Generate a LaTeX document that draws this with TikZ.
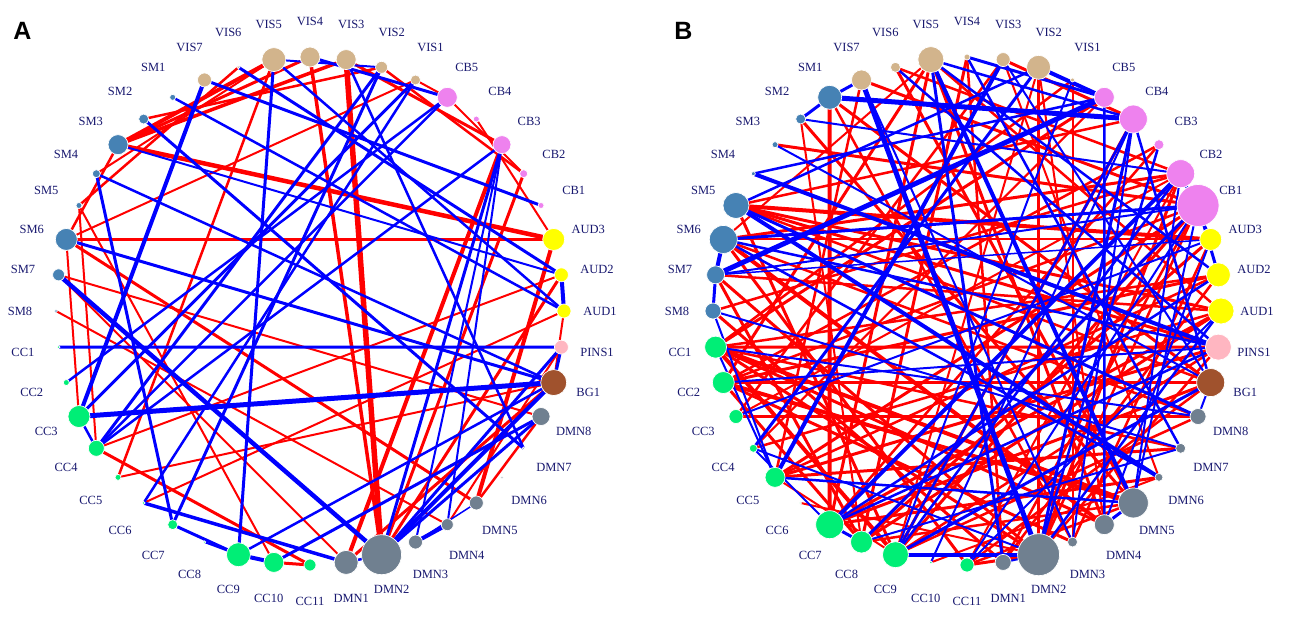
\documentclass[tikz,border=0pt]{standalone}
\usepackage{fontspec}
\setmainfont{Liberation Serif}
\newfontfamily\panelfont{Liberation Sans}
\usetikzlibrary{backgrounds}
\definecolor{cvis}{RGB}{210,180,140}
\definecolor{ccb}{RGB}{238,130,238}
\definecolor{caud}{RGB}{255,255,0}
\definecolor{cpins}{RGB}{255,182,193}
\definecolor{cbg}{RGB}{160,82,45}
\definecolor{cdmn}{RGB}{112,128,144}
\definecolor{ccc}{RGB}{0,238,118}
\definecolor{csm}{RGB}{70,130,180}
\definecolor{clab}{RGB}{25,25,112}
\definecolor{ered}{RGB}{255,0,0}
\definecolor{eblue}{RGB}{0,0,255}
\tikzset{
  roi/.style={circle, inner sep=0pt, draw=white, line width=0.7pt},
  lab/.style={text=clab, font=\fontsize{12.5}{13}\selectfont, inner sep=0pt},
  redge/.style={draw=ered},
  bedge/.style={draw=eblue},
  panelletter/.style={font=\panelfont\fontsize{25}{25}\selectfont\bfseries, inner sep=0pt}
}
\begin{document}
\begin{tikzpicture}[x=1pt,y=-1pt]
\useasboundingbox (0,0) rectangle (1300,631);
\node[panelletter] (pA) at (22.5,31) {A};
\node[panelletter] (pB) at (683.5,31) {B};
% ---------- panel A nodes
\foreach \n/\i/\d/\c in {VIS4/0/20/cvis,VIS3/1/20/cvis,VIS2/2/12/cvis,VIS1/3/10/cvis,
  CB5/4/20/ccb,CB4/5/6/ccb,CB3/6/18/ccb,CB2/7/8/ccb,CB1/8/6/ccb,
  AUD3/9/22/caud,AUD2/10/14/caud,AUD1/11/14/caud,PINS1/12/14/cpins,BG1/13/26/cbg,
  DMN8/14/18/cdmn,DMN7/15/2.5/cdmn,DMN6/16/2.5/cdmn,DMN5/17/14/cdmn,DMN4/18/12/cdmn,
  DMN3/19/14/cdmn,DMN2/20/40/cdmn,DMN1/21/24/cdmn,
  CC11/22/12/ccc,CC10/23/20/ccc,CC9/24/24/ccc,CC8/25/2.5/ccc,CC7/26/10/ccc,CC6/27/3/ccc,
  CC5/28/6/ccc,CC4/29/16/ccc,CC3/30/22/ccc,CC2/31/6/ccc,CC1/32/3/ccc,
  SM8/33/3/csm,SM7/34/12/csm,SM6/35/22/csm,SM5/36/6/csm,SM4/37/8/csm,SM3/38/20/csm,
  SM2/39/10/csm,SM1/40/6/csm,VIS7/41/14/cvis,VIS6/42/3/cvis,VIS5/43/24/cvis} {
  \pgfmathsetmacro\ang{\i*360/44-90}
  \node[roi, fill=\c, minimum size=\d pt] (A-\n) at ([shift={(310,311)}]\ang:254) {};
  \node[lab] (A-\n-l) at ([shift={(310,311)}]\ang:290) {\n};
}
% ---------- panel B nodes
\foreach \n/\i/\d/\c in {VIS4/0/6/cvis,VIS3/1/14/cvis,VIS2/2/24/cvis,VIS1/3/4/cvis,
  CB5/4/20/ccb,CB4/5/28/ccb,CB3/6/10/ccb,CB2/7/28/ccb,CB1/8/42/ccb,
  AUD3/9/22/caud,AUD2/10/24/caud,AUD1/11/26/caud,PINS1/12/26/cpins,BG1/13/28/cbg,
  DMN8/14/16/cdmn,DMN7/15/10/cdmn,DMN6/16/8/cdmn,DMN5/17/30/cdmn,DMN4/18/20/cdmn,
  DMN3/19/10/cdmn,DMN2/20/42/cdmn,DMN1/21/16/cdmn,
  CC11/22/14/ccc,CC10/23/3/ccc,CC9/24/26/ccc,CC8/25/22/ccc,CC7/26/28/ccc,CC6/27/2/ccc,
  CC5/28/20/ccc,CC4/29/8/ccc,CC3/30/14/ccc,CC2/31/22/ccc,CC1/32/22/ccc,
  SM8/33/16/csm,SM7/34/18/csm,SM6/35/28/csm,SM5/36/26/csm,SM4/37/4/csm,SM3/38/6/csm,
  SM2/39/10/csm,SM1/40/24/csm,VIS7/41/20/cvis,VIS6/42/10/cvis,VIS5/43/26/cvis} {
  \pgfmathsetmacro\ang{\i*360/44-90}
  \node[roi, fill=\c, minimum size=\d pt] (B-\n) at ([shift={(967,311)}]\ang:254) {};
  \node[lab] (B-\n-l) at ([shift={(967,311)}]\ang:290) {\n};
}
\begin{pgfonlayer}{background}
\fill[white] (0,0) rectangle (1300,631);
% ---------- panel A edges
\foreach \a/\b/\w in {SM3/VIS5/4,SM3/VIS4/3,SM3/VIS3/3.5,SM2/VIS2/2.5,SM3/AUD3/4.5,
  SM6/AUD3/2.5,SM6/VIS1/2,VIS3/DMN2/5.5,VIS4/DMN2/3.5,CB3/DMN1/4,CB2/DMN2/3,
  SM6/DMN5/3,DMN5/DMN8/2.5,CC5/BG1/2,CC4/CC11/3,CC10/CC11/3,AUD3/DMN5/4,AUD1/CC6/2,
  SM8/DMN4/2,VIS6/SM5/2.5,VIS5/SM4/2,SM5/CC10/2,SM3/SM6/2.5,SM6/CC3/2,SM5/CC4/2,
  CC5/VIS5/2.5,SM7/DMN1/2,AUD2/CC4/2,VIS3/CB3/3,VIS2/CB2/2.5,CB5/CB2/2,CB4/AUD3/2,
  VIS1/CB5/2,PINS1/DMN4/2,AUD1/BG1/2,BG1/DMN1/3,AUD2/DMN2/3,SM7/DMN8/2}
  \draw[redge, line width=\w pt] (A-\a.center) -- (A-\b.center);
\foreach \a/\b/\w in {VIS5/CC9/3,VIS7/CC3/4,SM4/CC7/3,SM2/DMN7/3,SM6/BG1/3,SM7/DMN2/4.5,
  CC1/PINS1/3,CC3/BG1/5,DMN2/BG1/4,DMN2/PINS1/3,DMN2/DMN8/3,CC9/BG1/2.5,CC10/DMN8/3,
  CC6/DMN1/3.5,CC7/CC9/3,CC8/CC9/2,CC9/CC10/4,CC2/CB5/2.5,CC3/VIS1/3,CC4/VIS2/3,
  VIS2/CC7/3,VIS1/CC6/2.5,CB5/CC4/2.5,CB3/DMN2/3,CB3/DMN3/2,CB3/DMN4/2,DMN3/DMN4/4,
  DMN3/DMN5/1.5,DMN1/DMN2/2.5,AUD2/AUD1/4,PINS1/BG1/3,VIS4/CB5/3,VIS5/VIS2/2,
  VIS7/CB1/3,VIS5/AUD1/2.5,SM1/AUD1/2.5,SM3/AUD2/2,VIS6/AUD2/3,SM4/BG1/2.5,
  VIS3/DMN7/2.5,CC3/CC4/2.5,CB3/CC4/2.5}
  \draw[bedge, line width=\w pt] (A-\a.center) -- (A-\b.center);
% ---------- panel B edges
\foreach \a/\b/\w in {SM1/CC7/4,SM1/BG1/3,SM3/CB1/3,SM5/AUD3/4,SM5/AUD1/3,SM5/PINS1/3,
  SM6/AUD3/2,SM6/DMN4/4,VIS2/DMN2/2.5,VIS2/DMN4/2,CC1/DMN5/4,CC1/DMN2/3,CC1/CC9/4,
  CC1/DMN4/3,CC1/PINS1/3,CC1/AUD2/2.5,CC2/DMN5/4,CC2/CC8/3,CC2/DMN3/3,CC2/BG1/3,
  CC2/CB1/2.5,CC3/DMN8/3,CC3/CB2/2,CC4/AUD1/2.5,CC5/CB1/3,CC5/DMN7/3,CC5/AUD2/2.5,
  CC5/CC9/2,CC7/DMN6/3,CC7/CB3/2.5,CC7/VIS5/3,CC8/CB1/3,CC8/DMN5/2.5,CC8/AUD1/3,
  CC9/CB4/3,CC9/PINS1/2.5,CC9/VIS2/2,CC11/BG1/2.5,CC11/CB2/2,SM7/DMN2/3,SM7/CC8/3,
  SM8/DMN1/3,SM8/CB2/2.5,SM6/CC11/3,SM5/CC9/3,SM2/DMN5/3,SM2/CC8/2,SM1/DMN3/2.5,
  VIS7/CB1/3,VIS7/CC5/2.5,VIS6/DMN5/3,VIS6/CB2/2.5,VIS5/DMN4/3,VIS5/AUD1/2.5,
  VIS5/CC2/3,VIS5/SM6/2,VIS4/CC8/3,VIS4/DMN1/2.5,VIS3/CC3/2.5,VIS3/DMN6/2,VIS3/CB4/3,
  VIS1/CC1/2.5,VIS1/DMN3/2,CB5/CC1/3,CB5/CC4/2,CB4/SM5/2.5,CB3/CC2/2.5,CB2/SM6/3,
  CB2/DMN2/3,CB1/CC9/3,CB1/DMN2/2.5,AUD3/CC8/3,AUD3/DMN3/2.5,AUD2/CC2/3,AUD2/DMN1/2.5,
  AUD1/CC7/3,AUD1/SM7/2.5,PINS1/CC5/3,PINS1/DMN2/2.5,BG1/CC7/3,BG1/SM5/2.5,
  DMN8/CC9/2.5,DMN8/SM6/2.5,DMN7/CC1/2.5,DMN5/CC11/2.5,DMN2/CC6/2,DMN1/CB1/2.5,
  DMN2/CC11/3,CC10/DMN6/2}
  \draw[redge, line width=\w pt] (B-\a.center) -- (B-\b.center);
\foreach \a/\b/\w in {VIS7/DMN2/5,SM1/CB4/5,SM2/CB2/2,SM4/PINS1/4,SM5/DMN8/3,SM5/DMN6/4,
  SM7/CB5/5,SM7/AUD3/1.5,SM7/SM6/4,SM6/CB1/3,SM6/PINS1/2.5,SM8/CC5/2,SM8/SM7/3,
  SM1/SM2/3,SM1/VIS7/3,CB4/DMN2/3,CB4/DMN3/2,CB4/BG1/2.5,CB4/CC9/2.5,VIS2/CC4/3,
  VIS2/CB5/4,CB5/DMN4/2.5,CB5/SM4/2.5,CB2/CC7/4,CB1/CC8/3,CB1/SM7/2,CB1/DMN5/2,
  CC1/DMN8/2,CC1/CC5/2,CC9/DMN2/4,CC4/DMN2/2,CC3/AUD3/2,CC4/CC7/2,CC7/AUD2/2.5,
  CC7/CC8/3,CC9/BG1/3,CC9/CB2/2.5,CC8/DMN7/2,CC5/DMN5/2.5,CC2/PINS1/2,VIS5/DMN5/4,
  VIS5/DMN1/3,VIS5/CB4/2.5,VIS5/AUD2/2.5,VIS4/CB5/3,VIS4/DMN7/2.5,VIS3/CC5/4,
  VIS3/BG1/2,VIS2/SM5/2.5,VIS1/CC9/2,VIS6/PINS1/2.5,SM3/BG1/2,DMN2/CB3/2.5,
  DMN2/AUD1/2.5,DMN4/AUD3/2,DMN5/CB2/2,DMN5/DMN4/3,DMN1/DMN2/2,DMN6/SM6/2.5,
  DMN7/SM8/2,BG1/DMN8/2,PINS1/CC7/2.5,AUD1/CC11/2,AUD2/CB1/3,AUD3/CB2/3,
  CC11/CB1/2,CC10/CB4/2,DMN3/VIS7/2}
  \draw[bedge, line width=\w pt] (B-\a.center) -- (B-\b.center);
\end{pgfonlayer}
\end{tikzpicture}
\end{document}
